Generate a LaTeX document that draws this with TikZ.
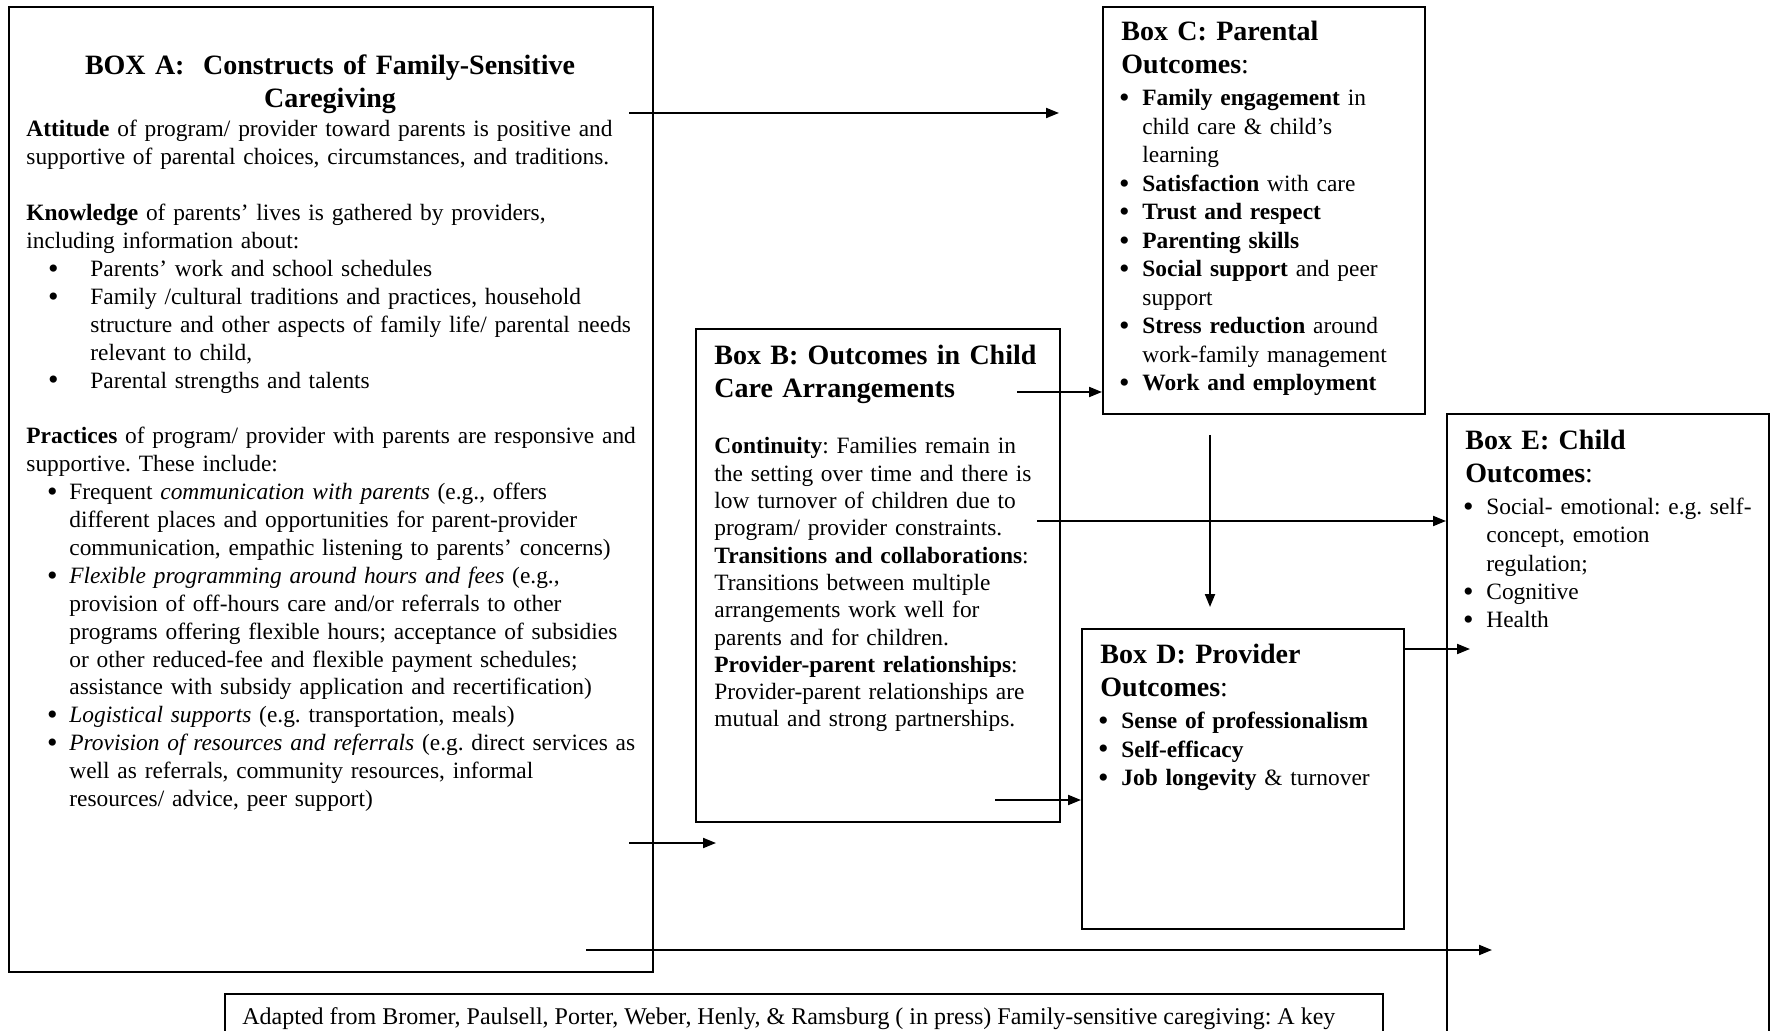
\documentclass[tikz,border=0pt]{standalone}
\usepackage{fontspec}
\setmainfont{Liberation Serif}
\usetikzlibrary{arrows.meta}
\setlength{\parindent}{0pt}
\frenchspacing
\newcommand{\bigbul}{\raisebox{-0.9pt}{\fontsize{15}{12}\selectfont\textbullet}}
\newcommand{\bulA}{\hspace*{10.9pt}\makebox[21.1pt][l]{\bigbul}}
\newcommand{\contA}{\hspace*{32pt}}
\newcommand{\bulB}{\hspace*{10.4pt}\makebox[11.1pt][l]{\bigbul}}
\newcommand{\contB}{\hspace*{21.5pt}}
\newcommand{\bulS}{\makebox[10.5pt][l]{\hspace*{-1.1pt}\bigbul}}
\newcommand{\contS}{\hspace*{10.5pt}}
\begin{document}
\begin{tikzpicture}[x=0.5pt,y=-0.5pt,
  box/.style={draw, line width=1pt, inner sep=0pt, anchor=north west},
  ttl/.style={inner sep=0pt, anchor=base west, align=left, font=\fontsize{14}{16.5}\selectfont\bfseries},
  body/.style={inner sep=0pt, anchor=base west, align=left},
  arr/.style={-{Triangle[length=6.5pt,width=5pt]}, line width=1pt}]
\useasboundingbox (0,0) rectangle (1771,1031);
\clip (0,0) rectangle (1771,1031);
\fill[white] (0,0) rectangle (1771,1031);

% boxes
\node[box, minimum width=322pt, minimum height=482.5pt] (A) at (8,6) {};
\node[box, minimum width=182pt, minimum height=246.5pt] (B) at (695,328) {};
\node[box, minimum width=161pt, minimum height=203.5pt] (C) at (1102,6) {};
\node[box, minimum width=161pt, minimum height=150pt] (D) at (1081,628) {};
\node[box, minimum width=161pt, minimum height=340pt] (E) at (1446,413) {};
\node[box, minimum width=579pt, minimum height=60pt] (F) at (224,993) {};

% Box A
\node[inner sep=0pt, anchor=base, align=center, text width=300pt,
      font=\fontsize{14}{16.3}\selectfont\bfseries] (At) at (330,75)
  {BOX A:~ Constructs of Family-Sensitive\\Caregiving};
\node[body, text width=320pt, font=\fontsize{11.7}{13.95}\selectfont] (Ab) at (26,137) {%
\textbf{Attitude} of program/ provider toward parents is positive and\\
supportive of parental choices, circumstances, and traditions.\\[13.95pt]
\textbf{Knowledge} of parents’ lives is gathered by providers,\\
including information about:\\
\bulA Parents’ work and school schedules\\
\bulA Family /cultural traditions and practices, household\\
\contA structure and other aspects of family life/ parental needs\\
\contA relevant to child,\\
\bulA Parental strengths and talents\\[13.95pt]
\textbf{Practices} of program/ provider with parents are responsive and\\
supportive. These include:\\
\bulB Frequent \textit{communication with parents} (e.g., offers\\
\contB different places and opportunities for parent-provider\\
\contB communication, empathic listening to parents’ concerns)\\
\bulB \textit{Flexible programming around hours and fees} (e.g.,\\
\contB provision of off-hours care and/or referrals to other\\
\contB programs offering flexible hours; acceptance of subsidies\\
\contB or other reduced-fee and flexible payment schedules;\\
\contB assistance with subsidy application and recertification)\\
\bulB \textit{Logistical supports} (e.g. transportation, meals)\\
\bulB \textit{Provision of resources and referrals} (e.g. direct services as\\
\contB well as referrals, community resources, informal\\
\contB resources/ advice, peer support)};

% Box B
\node[ttl, text width=175pt] (Bt) at (714,364.5)
  {Box B: Outcomes in Child\\Care Arrangements};
\node[body, text width=175pt, font=\fontsize{11.7}{13.65}\selectfont] (Bb) at (714,454) {%
\textbf{Continuity}: Families remain in\\
the setting over time and there is\\
low turnover of children due to\\
program/ provider constraints.\\
\textbf{Transitions and collaborations}:\\
Transitions between multiple\\
arrangements work well for\\
parents and for children.\\
\textbf{Provider-parent relationships}:\\
Provider-parent relationships are\\
mutual and strong partnerships.};

% Box C
\node[ttl, text width=150pt] (Ct) at (1121,41)
  {Box C: Parental\\Outcomes{\mdseries :}};
\node[body, text width=150pt, font=\fontsize{11.7}{14.25}\selectfont] (Cb) at (1121,106) {%
\bulS\textbf{Family engagement} in\\
\contS child care \& child’s\\
\contS learning\\
\bulS\textbf{Satisfaction} with care\\
\bulS\textbf{Trust and respect}\\
\bulS\textbf{Parenting skills}\\
\bulS\textbf{Social support} and peer\\
\contS support\\
\bulS\textbf{Stress reduction} around\\
\contS work-family management\\
\bulS\textbf{Work and employment}};

% Box D
\node[ttl, text width=150pt] (Dt) at (1100,663)
  {Box D: Provider\\Outcomes{\mdseries :}};
\node[body, text width=150pt, font=\fontsize{11.7}{14.3}\selectfont] (Db) at (1100,728.5) {%
\bulS\textbf{Sense of professionalism}\\
\bulS\textbf{Self-efficacy}\\
\bulS\textbf{Job longevity} \& turnover};

% Box E
\node[ttl, text width=150pt] (Et) at (1465,450)
  {Box E: Child\\Outcomes{\mdseries :}};
\node[body, text width=150pt, font=\fontsize{11.7}{14.15}\selectfont] (Eb) at (1465,514.5) {%
\bulS Social- emotional: e.g. self-\\
\contS concept, emotion\\
\contS regulation;\\
\bulS Cognitive\\
\bulS Health};

% footnote
\node[body, font=\fontsize{12}{14}\selectfont] (Ft) at (242,1024)
  {Adapted from Bromer, Paulsell, Porter, Weber, Henly, \& Ramsburg ( in press) Family-sensitive caregiving: A key};

% connectors
\coordinate (a1) at (629,113);  \coordinate (a1e) at (1059,113);
\coordinate (b1) at (1017,392);
\coordinate (c1) at (1210,435); \coordinate (c1e) at (1210,607);
\coordinate (b2) at (1037,521);
\coordinate (d1e) at (1470,649);
\coordinate (b3) at (995,800);
\coordinate (a2) at (629,843);  \coordinate (a2e) at (716,843);
\coordinate (a3) at (586,950);  \coordinate (a3e) at (1492,950);

\draw[arr] (a1) -- (a1e);
\draw[arr] (b1) -- (b1 -| C.west);
\draw[arr] (c1) -- (c1e);
\draw[arr] (b2) -- (b2 -| E.west);
\draw[arr] (D.east |- d1e) -- (d1e);
\draw[arr] (b3) -- (b3 -| D.west);
\draw[arr] (a2) -- (a2e);
\draw[arr] (a3) -- (a3e);
\end{tikzpicture}
\end{document}
